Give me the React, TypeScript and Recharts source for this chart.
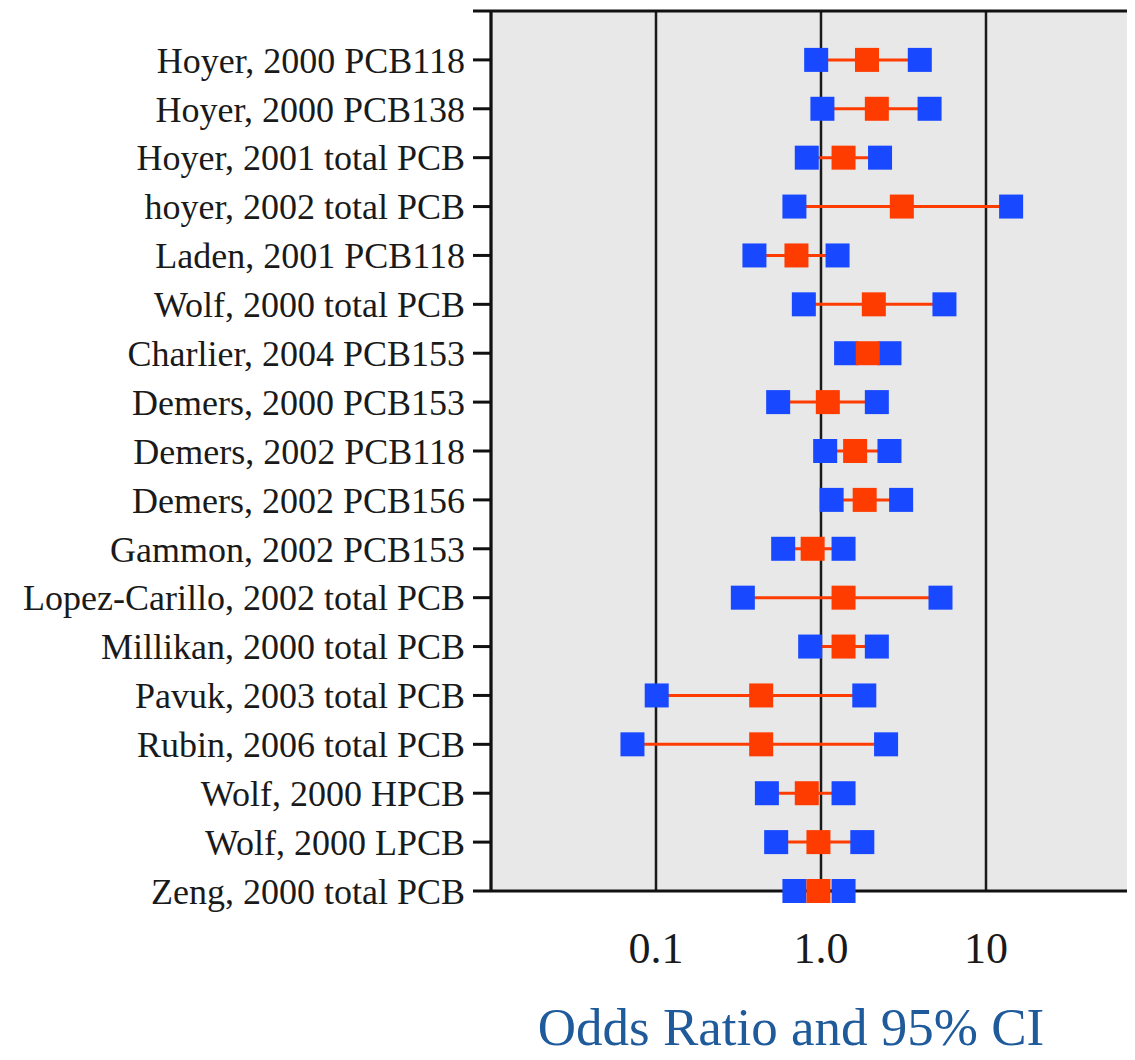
import {
  ScatterChart,
  Scatter,
  XAxis,
  YAxis,
  CartesianGrid,
  ErrorBar,
  ReferenceLine,
} from "recharts";

// study labels, top to bottom
const studies = [
  "Hoyer, 2000 PCB118",
  "Hoyer, 2000 PCB138",
  "Hoyer, 2001 total PCB",
  "hoyer, 2002 total PCB",
  "Laden, 2001 PCB118",
  "Wolf, 2000 total PCB",
  "Charlier, 2004 PCB153",
  "Demers, 2000 PCB153",
  "Demers, 2002 PCB118",
  "Demers, 2002 PCB156",
  "Gammon, 2002 PCB153",
  "Lopez-Carillo, 2002 total PCB",
  "Millikan, 2000 total PCB",
  "Pavuk, 2003 total PCB",
  "Rubin, 2006 total PCB",
  "Wolf, 2000 HPCB",
  "Wolf, 2000 LPCB",
  "Zeng, 2000 total PCB",
];
const oddsRatio = [1.9, 2.18, 1.37, 3.09, 0.71, 2.09, 1.92, 1.1, 1.61, 1.84, 0.89, 1.37, 1.37, 0.434, 0.434, 0.82, 0.965, 0.965];
const ciLower = [0.935, 1.02, 0.82, 0.69, 0.395, 0.787, 1.42, 0.55, 1.06, 1.16, 0.59, 0.336, 0.86, 0.101, 0.072, 0.47, 0.535, 0.69];
const ciUpper = [3.97, 4.55, 2.28, 14.2, 1.26, 5.6, 2.6, 2.18, 2.6, 3.06, 1.37, 5.3, 2.18, 1.83, 2.48, 1.37, 1.78, 1.37];
const xTicks = [0.1, 1, 10];
const xTickLabels = ["0.1", "1.0", "10"];

const orData = studies.map((s, i) => ({
  y: i,
  x: oddsRatio[i],
  err: [oddsRatio[i] - ciLower[i], ciUpper[i] - oddsRatio[i]],
}));
const ciData = studies.flatMap((s, i) => [
  { y: i, x: ciLower[i] },
  { y: i, x: ciUpper[i] },
]);

const BLUE = "#1848ff";
const RED = "#ff3c00";
const SQ = 24;

const square = (color: string) => (props: any) => (
  <rect x={props.cx - SQ / 2} y={props.cy - SQ / 2} width={SQ} height={SQ} fill={color} />
);

const Title = (props: any) => {
  const vb = props.viewBox || {};
  return (
    <text
      x={783}
      y={vb.y + 154}
      textAnchor="middle"
      fontSize={53}
      fill="#1f5a9a"
      fontFamily="'Liberation Serif', serif"
    >
      Odds Ratio and 95% CI
    </text>
  );
};

export default function App() {
  return (
    <ScatterChart
      width={1127}
      height={1052}
      margin={{ top: 3, right: 0, bottom: 0, left: 0 }}
      style={{ fontFamily: "'Liberation Serif', serif" }}
    >
      <CartesianGrid
        horizontal={false}
        stroke="#1a1a1a"
        strokeWidth={2.5}
        fill="#e8e8e8"
        fillOpacity={1}
      />
      <XAxis
        type="number"
        dataKey="x"
        scale="log"
        domain={[0.01, 80]}
        allowDataOverflow
        ticks={xTicks}
        tickFormatter={(v) => xTickLabels[xTicks.indexOf(v)] ?? ""}
        height={169}
        axisLine={{ stroke: "#111", strokeWidth: 3 }}
        tickLine={false}
        tickSize={0}
        tickMargin={41}
        tick={{ fontSize: 44, fill: "#1a1a1a" }}
        label={<Title />}
      />
      <YAxis
        type="number"
        dataKey="y"
        domain={[-1, 17]}
        reversed
        ticks={[-1, ...studies.map((s, i) => i)]}
        interval={0}
        tickFormatter={(v) => studies[v] ?? ""}
        width={483}
        axisLine={{ stroke: "#111", strokeWidth: 3 }}
        tickLine={{ stroke: "#111", strokeWidth: 3 }}
        tickSize={18}
        tickMargin={8}
        tick={{ fontSize: 36, fill: "#1a1a1a" }}
      />
      <ReferenceLine y={-1} stroke="#111" strokeWidth={3} />
      <Scatter data={ciData} shape={square(BLUE)} isAnimationActive={false} />
      <Scatter data={orData} shape={square(RED)} isAnimationActive={false}>
        <ErrorBar dataKey="err" direction="x" width={0} stroke={RED} strokeWidth={3} />
      </Scatter>
    </ScatterChart>
  );
}
